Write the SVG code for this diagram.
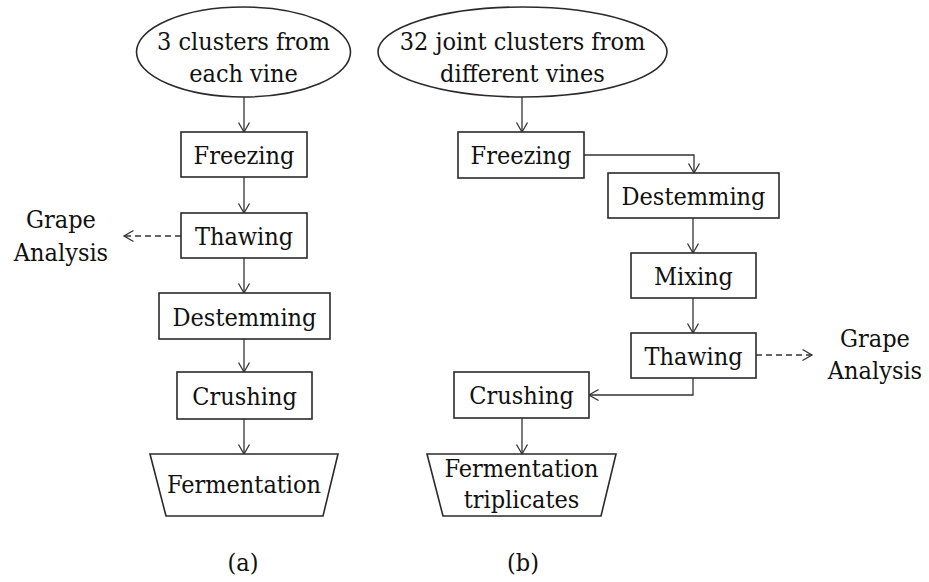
<svg xmlns="http://www.w3.org/2000/svg" width="929" height="582" viewBox="0 0 929 582">
<style>
.shape{fill:#fff;stroke:#2a2a2a;stroke-width:1.6}
.t{font-family:'DejaVu Serif Condensed','DejaVu Serif','Liberation Serif',serif;font-stretch:condensed;font-size:25px;fill:#111;text-anchor:middle}
.ln{fill:none;stroke:#333;stroke-width:1.3}
.dash{stroke-dasharray:6,4}
</style>
<defs>
<marker id="arr" markerUnits="userSpaceOnUse" markerWidth="14" markerHeight="14" viewBox="-1 -7 12 14" refX="9.5" refY="0" orient="auto">
<path d="M0,-5.5 L9.5,0 L0,5.5" fill="none" stroke="#333" stroke-width="1.3"/>
</marker>
</defs>
<rect width="929" height="582" fill="#fff"/>
<g id="connectors">
<line class="ln" x1="244" y1="97" x2="244" y2="132" marker-end="url(#arr)"/>
<line class="ln" x1="244" y1="177" x2="244" y2="213" marker-end="url(#arr)"/>
<line class="ln dash" x1="181" y1="236" x2="124" y2="236" marker-end="url(#arr)"/>
<line class="ln" x1="244" y1="258" x2="244" y2="293" marker-end="url(#arr)"/>
<line class="ln" x1="244" y1="339" x2="244" y2="372" marker-end="url(#arr)"/>
<line class="ln" x1="244" y1="419" x2="244" y2="454" marker-end="url(#arr)"/>
<line class="ln" x1="522" y1="97" x2="522" y2="132" marker-end="url(#arr)"/>
<polyline class="ln" points="584,155 694,155 694,173" marker-end="url(#arr)"/>
<line class="ln" x1="693" y1="218" x2="693" y2="253" marker-end="url(#arr)"/>
<line class="ln" x1="693" y1="298" x2="693" y2="333" marker-end="url(#arr)"/>
<line class="ln dash" x1="756" y1="355" x2="812" y2="355" marker-end="url(#arr)"/>
<polyline class="ln" points="693,378 693,395 589,395" marker-end="url(#arr)"/>
<line class="ln" x1="522" y1="418" x2="522" y2="454" marker-end="url(#arr)"/>
</g>
<g id="a-start">
<ellipse class="shape" cx="243.5" cy="52" rx="107" ry="45"/>
<text class="t" x="243.5" y="50">3 clusters from</text>
<text class="t" x="243.5" y="82">each vine</text>
</g>
<g id="a-freezing">
<rect class="shape" x="181" y="132" width="126" height="45"/>
<text class="t" x="244" y="164">Freezing</text>
</g>
<g id="a-thawing">
<rect class="shape" x="181" y="213" width="126" height="45"/>
<text class="t" x="244" y="245">Thawing</text>
</g>
<g id="a-grape">
<text class="t" x="61" y="228">Grape</text>
<text class="t" x="61" y="261">Analysis</text>
</g>
<g id="a-destemming">
<rect class="shape" x="159" y="293" width="171" height="46"/>
<text class="t" x="244.5" y="326">Destemming</text>
</g>
<g id="a-crushing">
<rect class="shape" x="177" y="372" width="135" height="47"/>
<text class="t" x="244.5" y="405">Crushing</text>
</g>
<g id="a-fermentation">
<polygon class="shape" points="150,454 338,454 323,516 166,516"/>
<text class="t" x="244" y="493">Fermentation</text>
</g>
<g id="label-a">
<text class="t" x="243" y="571">(a)</text>
</g>
<g id="b-start">
<ellipse class="shape" cx="522.5" cy="52" rx="144.5" ry="45"/>
<text class="t" x="522.5" y="50">32 joint clusters from</text>
<text class="t" x="522.5" y="82">different vines</text>
</g>
<g id="b-freezing">
<rect class="shape" x="458" y="132" width="126" height="46"/>
<text class="t" x="521" y="164">Freezing</text>
</g>
<g id="b-destemming">
<rect class="shape" x="608" y="173" width="171" height="45"/>
<text class="t" x="693.5" y="205">Destemming</text>
</g>
<g id="b-mixing">
<rect class="shape" x="631" y="253" width="125" height="45"/>
<text class="t" x="693.5" y="285">Mixing</text>
</g>
<g id="b-thawing">
<rect class="shape" x="631" y="333" width="125" height="45"/>
<text class="t" x="693.5" y="365">Thawing</text>
</g>
<g id="b-grape">
<text class="t" x="875" y="347">Grape</text>
<text class="t" x="875" y="379">Analysis</text>
</g>
<g id="b-crushing">
<rect class="shape" x="454" y="372" width="135" height="46"/>
<text class="t" x="521.5" y="404">Crushing</text>
</g>
<g id="b-fermentation">
<polygon class="shape" points="427,454 616,454 601,516 443,516"/>
<text class="t" x="521.5" y="477">Fermentation</text>
<text class="t" x="521.5" y="508">triplicates</text>
</g>
<g id="label-b">
<text class="t" x="523" y="571">(b)</text>
</g>
</svg>
